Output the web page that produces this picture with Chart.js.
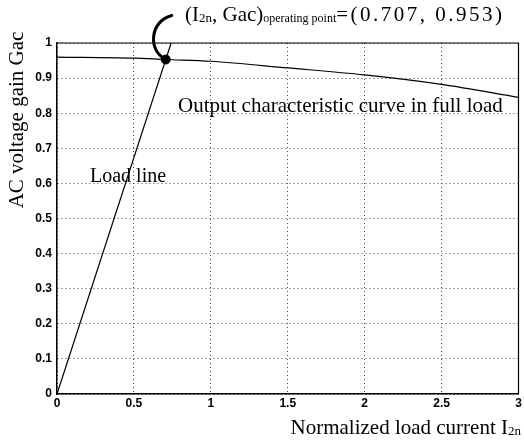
<!DOCTYPE html>
<html>
<head>
<meta charset="utf-8">
<script src="https://cdn.jsdelivr.net/npm/chart.js@4"></script>
<style>
  html, body { margin: 0; padding: 0; background: #fff; }
  #wrap { width: 524px; height: 441px; }
</style>
</head>
<body>
<div id="wrap"><canvas id="grafico" width="524" height="441"></canvas></div>
<script>
// eixos
const xTicks = [0, 0.5, 1, 1.5, 2, 2.5, 3];
const yTicks = [0, 0.1, 0.2, 0.3, 0.4, 0.5, 0.6, 0.7, 0.8, 0.9, 1];

// curva de saída em carga plena
const loadCurrent = [0, 0.5, 0.707, 1, 1.5, 2, 2.5, 3];
const gainFullLoad = [0.960, 0.957, 0.953, 0.948, 0.929, 0.909, 0.882, 0.845];

// reta de carga
const loadLineX = [0, 0.742];
const loadLineY = [0, 1.0];

// ponto de operação
const opPoint = [0.707, 0.953];

const SERIF = '"Liberation Serif", "Times New Roman", serif';

// desenha texto com trechos de tamanhos diferentes (subscritos)
function drawParts(ctx, x, y, parts, align) {
    ctx.save();
    ctx.textBaseline = 'alphabetic';
    ctx.textAlign = 'left';
    let total = 0;
    parts.forEach(p => {
        ctx.font = `${p.size}px ${SERIF}`;
        ctx.letterSpacing = (p.ls || 0) + 'px';
        p.w = ctx.measureText(p.t).width;
        total += p.w;
    });
    let cx = align === 'right' ? x - total : x;
    parts.forEach(p => {
        ctx.font = `${p.size}px ${SERIF}`;
        ctx.letterSpacing = (p.ls || 0) + 'px';
        ctx.fillText(p.t, cx, y + (p.dy || 0));
        cx += p.w;
    });
    ctx.restore();
}

const textos = {
    id: 'textos',
    afterDraw(chart) {
        const { ctx, chartArea: a, scales: { x, y } } = chart;
        ctx.save();
        // moldura superior e direita
        ctx.strokeStyle = '#000';
        ctx.lineWidth = 1.2;
        ctx.beginPath();
        ctx.moveTo(a.left, a.top);
        ctx.lineTo(a.right, a.top);
        ctx.lineTo(a.right, a.bottom);
        ctx.stroke();

        // seta curva até o ponto de operação
        const px = x.getPixelForValue(opPoint[0]);
        const py = y.getPixelForValue(opPoint[1]);
        ctx.lineWidth = 3;
        ctx.lineCap = 'round';
        ctx.beginPath();
        ctx.moveTo(px + 6, py - 44);
        ctx.bezierCurveTo(px - 17, py - 38, px - 17, py - 8, px - 1, py - 1);
        ctx.stroke();

        ctx.fillStyle = '#000';
        drawParts(ctx, 185, 21, [
            { t: '(I', size: 21 },
            { t: '2n', size: 13, dy: 1 },
            { t: ', Gac)', size: 21 },
            { t: 'operating point', size: 12, dy: 1 },
            { t: '=(0.707, 0.953)', size: 21, ls: 2.5 }
        ]);
        drawParts(ctx, 178, 112, [{ t: 'Output characteristic curve in full load', size: 21 }]);
        drawParts(ctx, 90, 182, [{ t: 'Load line', size: 20 }]);
        drawParts(ctx, 521, 434, [
            { t: 'Normalized load current I', size: 21 },
            { t: '2n', size: 13, dy: 1 }
        ], 'right');

        // título do eixo y
        ctx.translate(23, 120);
        ctx.rotate(-Math.PI / 2);
        ctx.font = `21px ${SERIF}`;
        ctx.textAlign = 'center';
        ctx.textBaseline = 'alphabetic';
        ctx.fillText('AC voltage gain Gac', 0, 0);
        ctx.restore();
    }
};

const tickFont = { family: '"Liberation Sans", Arial, sans-serif', size: 12, weight: 'bold' };
const gridOpts = { color: '#444', lineWidth: 1, drawTicks: false };

new Chart(document.getElementById('grafico').getContext('2d'), {
    type: 'scatter',
    data: {
        datasets: [
            {
                label: 'Output characteristic curve in full load',
                data: loadCurrent.map((v, i) => ({ x: v, y: gainFullLoad[i] })),
                showLine: true,
                borderColor: '#000',
                borderWidth: 1.2,
                pointRadius: 0,
                cubicInterpolationMode: 'monotone',
                clip: false
            },
            {
                label: 'Load line',
                data: loadLineX.map((v, i) => ({ x: v, y: loadLineY[i] })),
                showLine: true,
                borderColor: '#000',
                borderWidth: 1.2,
                pointRadius: 0
            },
            {
                label: 'Operating point',
                data: [{ x: opPoint[0], y: opPoint[1] }],
                backgroundColor: '#000',
                borderColor: '#000',
                pointRadius: 4.5
            }
        ]
    },
    options: {
        responsive: false,
        animation: false,
        events: [],
        layout: { padding: { top: 43, right: 2, left: 0, bottom: 0 } },
        plugins: { legend: { display: false }, tooltip: { enabled: false } },
        scales: {
            x: {
                type: 'linear',
                min: 0, max: 3,
                afterBuildTicks: s => { s.ticks = xTicks.map(v => ({ value: v })); },
                afterFit: s => { s.height = 47; s.paddingLeft = 0; s.paddingRight = 0; },
                ticks: { font: tickFont, color: '#000', padding: 2, maxRotation: 0, callback: v => String(v) },
                grid: gridOpts,
                border: { display: true, color: '#000', width: 1.5, dash: [1, 3] }
            },
            y: {
                type: 'linear',
                min: 0, max: 1,
                afterBuildTicks: s => { s.ticks = yTicks.map(v => ({ value: v })); },
                afterFit: s => { s.width = 57; s.paddingTop = 0; s.paddingBottom = 0; },
                ticks: { font: tickFont, color: '#000', padding: 5, callback: v => String(+v.toFixed(1)) },
                grid: gridOpts,
                border: { display: true, color: '#000', width: 1.5, dash: [1, 3] }
            }
        }
    },
    plugins: [textos]
});
</script>
</body>
</html>
